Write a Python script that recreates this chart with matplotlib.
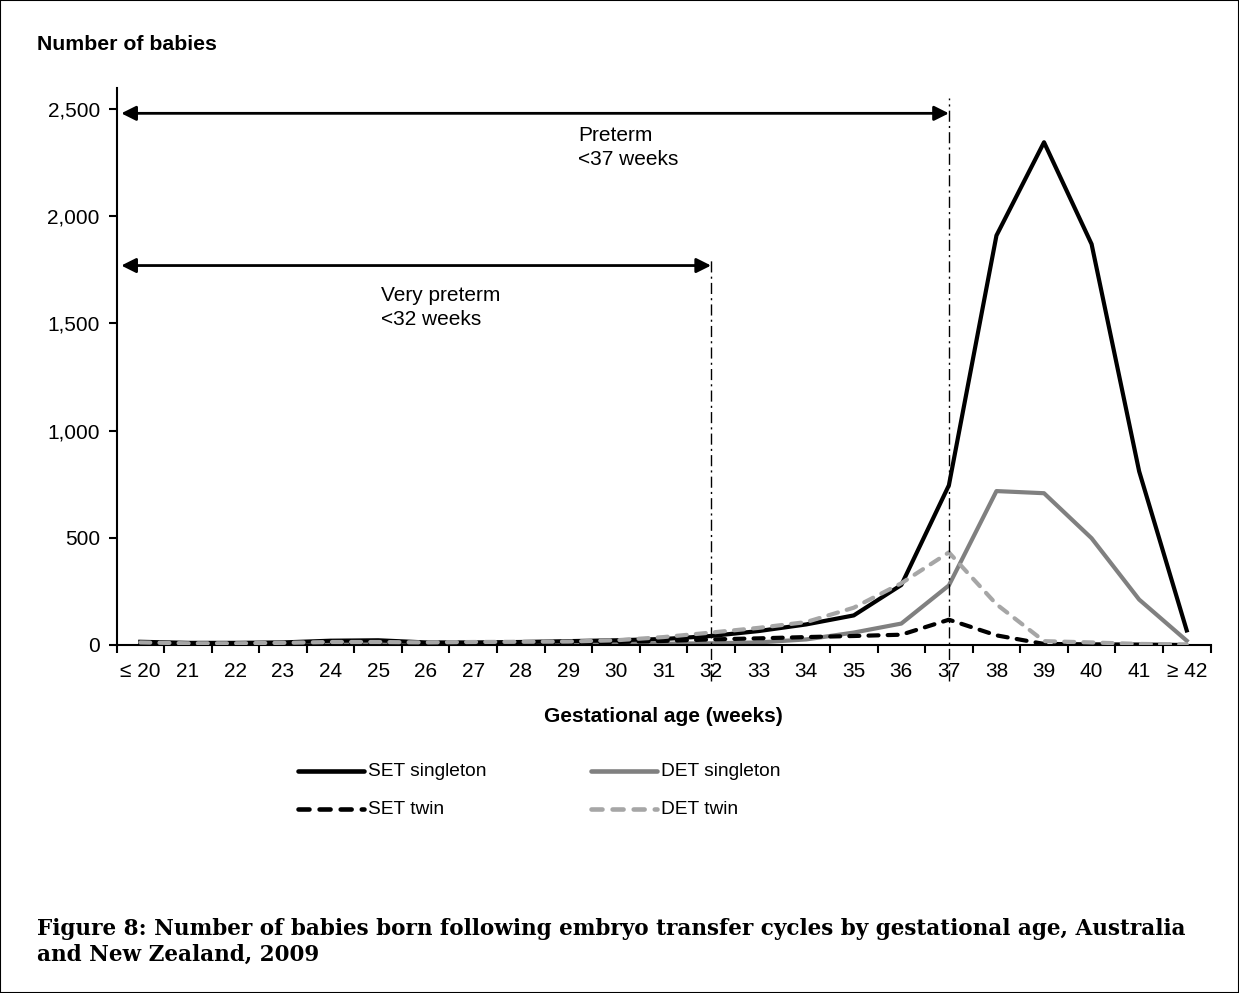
import matplotlib
matplotlib.use("Agg")
import matplotlib.pyplot as plt
from matplotlib.patches import Rectangle
from matplotlib.ticker import FuncFormatter, FixedLocator

categories = ["≤ 20", "21", "22", "23", "24", "25", "26", "27", "28", "29", "30",
              "31", "32", "33", "34", "35", "36", "37", "38", "39", "40", "41", "≥ 42"]
set_singleton = [15, 10, 10, 12, 20, 22, 12, 12, 14, 18, 22, 28, 42, 65, 96, 138, 280, 745, 1910, 2345, 1870, 810, 68]
det_singleton = [8, 5, 5, 5, 8, 8, 5, 5, 6, 6, 6, 6, 8, 12, 26, 58, 100, 278, 718, 708, 498, 212, 20]
set_twin = [5, 3, 3, 4, 8, 8, 6, 8, 8, 10, 14, 19, 26, 31, 37, 42, 48, 118, 45, 5, 3, 2, 0]
det_twin = [12, 8, 8, 10, 14, 14, 12, 14, 15, 16, 22, 37, 58, 80, 107, 174, 288, 432, 190, 18, 12, 5, 3]
yticks = [0, 500, 1000, 1500, 2000, 2500]

plt.rcParams['font.family'] = ['Liberation Sans', 'DejaVu Sans']

W, H = 1239, 993
fig = plt.figure(figsize=(W / 100, H / 100), dpi=100)
fig.patches.append(Rectangle((0, 0), 1, 1, transform=fig.transFigure, fill=False,
                             edgecolor='black', linewidth=1.5))

left, right, bottom, top = 116.5, 1210.5, 645, 87.6
ax = fig.add_axes([left / W, 1 - bottom / H, (right - left) / W, (bottom - top) / H])

x = list(range(len(categories)))
lw = 3.0
ax.plot(x, set_twin, color='black', lw=lw, dashes=(2.4, 2.2), dash_capstyle='round', zorder=3)
ax.plot(x, det_twin, color='#a6a6a6', lw=lw, dashes=(2.4, 2.2), dash_capstyle='round', zorder=4)
ax.plot(x, det_singleton, color='#808080', lw=lw, zorder=2)
ax.plot(x, set_singleton, color='black', lw=lw, zorder=2)

ax.set_xlim(-0.5, len(categories) - 0.5)
ax.set_ylim(0, 2600)

for s in ['top', 'right']:
    ax.spines[s].set_visible(False)
ax.spines['left'].set_linewidth(1.5)
ax.spines['bottom'].set_linewidth(1.5)

ax.xaxis.set_major_locator(FixedLocator([i - 0.5 for i in range(len(categories) + 1)]))
ax.xaxis.set_minor_locator(FixedLocator(x))
ax.set_xticklabels([])
ax.set_xticklabels(categories, minor=True)
ax.tick_params(axis='x', which='major', direction='out', length=6, width=1.5)
ax.tick_params(axis='x', which='minor', length=0, pad=12, labelsize=15)
ax.set_yticks(yticks)
ax.yaxis.set_major_formatter(FuncFormatter(lambda v, p: f"{int(v):,}"))
ax.tick_params(axis='y', direction='out', length=6, width=1.5, labelsize=15, pad=6)

# reference lines
for xi, ytop in [(12, 1800), (17, 2550)]:
    ax.plot([xi, xi], [-170, ytop], color='black', lw=1, linestyle=(0, (8, 3, 1.5, 3)),
            clip_on=False, zorder=5)

arrow_kw = dict(arrowstyle='<|-|>', color='black', lw=2, mutation_scale=22,
                shrinkA=0, shrinkB=0)
ax.annotate('', xy=(17, 2480), xytext=(-0.4, 2480), arrowprops=arrow_kw)
ax.annotate('', xy=(12, 1770), xytext=(-0.4, 1770), arrowprops=arrow_kw)
ax.text(9.2, 2420, "Preterm\n<37 weeks", fontsize=15, va='top', ha='left', linespacing=1.35)
ax.text(5.07, 1675, "Very preterm\n<32 weeks", fontsize=15, va='top', ha='left', linespacing=1.35)

fig.text(37 / W, 1 - 45 / H, "Number of babies", fontsize=15.3, fontweight='bold', va='center')
fig.text(663 / W, 1 - 717 / H, "Gestational age (weeks)", fontsize=15, fontweight='bold',
         va='center', ha='center')

# legend
def leg(x0, y0, label, color, dashed):
    x0f, x1f = x0 / W, (x0 + 66) / W
    yf = 1 - y0 / H
    kw = dict(color=color, lw=3.3, transform=fig.transFigure)
    if dashed:
        kw.update(dashes=(2.4, 2.2), dash_capstyle='round')
    else:
        kw.update(solid_capstyle='round')
    fig.add_artist(plt.Line2D([x0f, x1f], [yf, yf], **kw))
    fig.text((x0 + 70) / W, yf, label, fontsize=13.8, va='center', ha='left')

leg(298, 771, "SET singleton", 'black', False)
leg(591, 771, "DET singleton", '#808080', False)
leg(298, 809, "SET twin", 'black', True)
leg(591, 809, "DET twin", '#a6a6a6', True)

cap = ("Figure 8: Number of babies born following embryo transfer cycles by gestational age, Australia\n"
       "and New Zealand, 2009")
fig.text(37 / W, 1 - 918 / H, cap, fontsize=15.5, fontweight='bold', family='DejaVu Serif',
         va='top', ha='left', linespacing=1.25)

fig.savefig("out.png", dpi=100)
